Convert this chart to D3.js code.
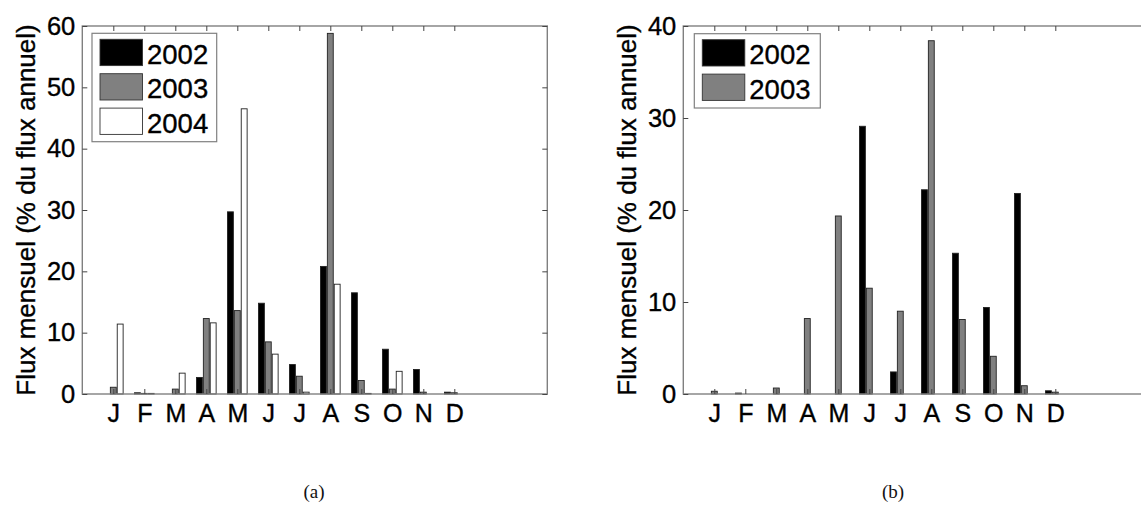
<!DOCTYPE html>
<html>
<head>
<meta charset="utf-8">
<script src="https://cdn.jsdelivr.net/npm/d3@7/dist/d3.min.js"></script>
<style>
  html, body { margin: 0; padding: 0; background: #fff; }
  svg { display: block; }
</style>
</head>
<body>
<svg id="chart" width="1141" height="519"></svg>
<script>
// ---- data ----
const months = ["J","F","M","A","M","J","J","A","S","O","N","D"];
const seriesNamesA = ["2002","2003","2004"];
const a2002 = [0, 0.2, 0, 2.7, 29.7, 14.8, 4.8, 20.8, 16.5, 7.3, 4.0, 0.3];
const a2003 = [1.1, 0.1, 0.8, 12.3, 13.6, 8.5, 2.9, 58.8, 2.2, 0.8, 0.3, 0.2];
const a2004 = [11.4, 0.1, 3.4, 11.6, 46.5, 6.5, 0.3, 17.9, 0.1, 3.7, 0, 0];
const seriesNamesB = ["2002","2003"];
const b2002 = [0, 0.1, 0, 0, 0, 29.1, 2.4, 22.2, 15.3, 9.4, 21.8, 0.35];
const b2003 = [0.3, 0, 0.65, 8.2, 19.35, 11.5, 9.0, 38.4, 8.1, 4.1, 0.9, 0.2];
const yTicksA = [0, 10, 20, 30, 40, 50, 60];
const yTicksB = [0, 10, 20, 30, 40];
const yLabel = "Flux mensuel (% du flux annuel)";
const captions = ["(a)", "(b)"];
const colors = ["#000000", "#808080", "#ffffff"];

const svg = d3.select("#chart");
const sans = "'Liberation Sans', Arial, Helvetica, sans-serif";

function heavy(sel) {
  sel.attr("stroke", "#000").attr("stroke-width", 0.35).attr("fill", "#000");
}

function panel(opts) {
  const { left, top, width, height, yMax, yTicks, series, names, caption, captionX, legendBox } = opts;
  const g = svg.append("g");
  const x = d3.scaleLinear().domain([0, 15]).range([left, left + width]);
  const y = d3.scaleLinear().domain([0, yMax]).range([top + height, top]);
  const groupOffsets = [-0.222, 0, 0.222];
  const barW = 0.19;

  // bars
  series.forEach((vals, si) => {
    g.append("g").selectAll("rect").data(vals).join("rect")
      .attr("x", (d, i) => x(i + 1 + groupOffsets[si] - barW / 2))
      .attr("width", x(barW) - x(0))
      .attr("y", d => y(d))
      .attr("height", d => y(0) - y(d))
      .attr("fill", colors[si])
      .attr("stroke", "#222")
      .attr("stroke-width", 0.9);
  });

  const axisColor = "#808080";
  // box
  g.append("rect")
    .attr("x", x(0)).attr("y", y(yMax))
    .attr("width", x(15) - x(0)).attr("height", y(0) - y(yMax))
    .attr("fill", "none").attr("stroke", axisColor).attr("stroke-width", 1.4);

  const styleAxis = (sel) => {
    sel.select(".domain").remove();
    sel.selectAll(".tick line").attr("stroke", "#444").attr("stroke-width", 1);
    sel.selectAll("text").style("font-family", sans).call(heavy);
  };
  const monthTicks = d3.range(1, 13);

  g.append("g").attr("transform", `translate(0,${y(0)})`)
    .call(d3.axisBottom(x).tickValues(monthTicks).tickFormat((d) => months[d - 1])
      .tickSizeInner(-5).tickSizeOuter(0).tickPadding(10))
    .call(styleAxis)
    .selectAll("text").style("font-size", "25px");

  g.append("g").attr("transform", `translate(0,${y(yMax)})`)
    .call(d3.axisTop(x).tickValues(monthTicks).tickFormat("")
      .tickSizeInner(-5).tickSizeOuter(0))
    .call(styleAxis);

  g.append("g").attr("transform", `translate(${x(0)},0)`)
    .call(d3.axisLeft(y).tickValues(yTicks).tickFormat(d3.format("d"))
      .tickSizeInner(-5).tickSizeOuter(0).tickPadding(7))
    .call(styleAxis)
    .selectAll("text").style("font-size", "25.5px");

  g.append("g").attr("transform", `translate(${x(15)},0)`)
    .call(d3.axisRight(y).tickValues(yTicks).tickFormat("")
      .tickSizeInner(-5).tickSizeOuter(0))
    .call(styleAxis);

  // y label
  g.append("text")
    .attr("transform", `translate(${left - 47},${top + height / 2}) rotate(-90)`)
    .attr("text-anchor", "middle")
    .style("font-family", sans).style("font-size", "26px")
    .call(heavy)
    .text(yLabel);

  // legend
  const lg = g.append("g");
  lg.append("rect")
    .attr("x", legendBox.x).attr("y", legendBox.y)
    .attr("width", legendBox.w).attr("height", legendBox.h)
    .attr("fill", "#fff").attr("stroke", axisColor).attr("stroke-width", 1.2);
  names.forEach((n, i) => {
    const ry = legendBox.y + 6 + i * 34.4;
    lg.append("rect")
      .attr("x", legendBox.x + 8).attr("y", ry)
      .attr("width", 42.5).attr("height", 26.3)
      .attr("fill", colors[i]).attr("stroke", "#333").attr("stroke-width", 0.9);
    lg.append("text")
      .attr("x", legendBox.x + 55).attr("y", ry + 24.5)
      .style("font-family", sans).style("font-size", "27.5px")
      .call(heavy)
      .text(n);
  });

  // caption
  svg.append("text")
    .attr("x", captionX).attr("y", 498)
    .attr("text-anchor", "middle")
    .style("font-family", "'Liberation Serif', 'DejaVu Serif', serif")
    .style("font-size", "19px")
    .attr("fill", "#111")
    .text(caption);
}

panel({
  left: 82.3, top: 26, width: 465, height: 368, yMax: 60, yTicks: yTicksA,
  series: [a2002, a2003, a2004], names: seriesNamesA, caption: captions[0], captionX: 314,
  legendBox: { x: 92, y: 33.3, w: 124.7, h: 108.4 }
});
panel({
  left: 683.3, top: 26, width: 465, height: 368, yMax: 40, yTicks: yTicksB,
  series: [b2002, b2003], names: seriesNamesB, caption: captions[1], captionX: 893,
  legendBox: { x: 694.3, y: 33.7, w: 126, h: 74.3 }
});
</script>
</body>
</html>
